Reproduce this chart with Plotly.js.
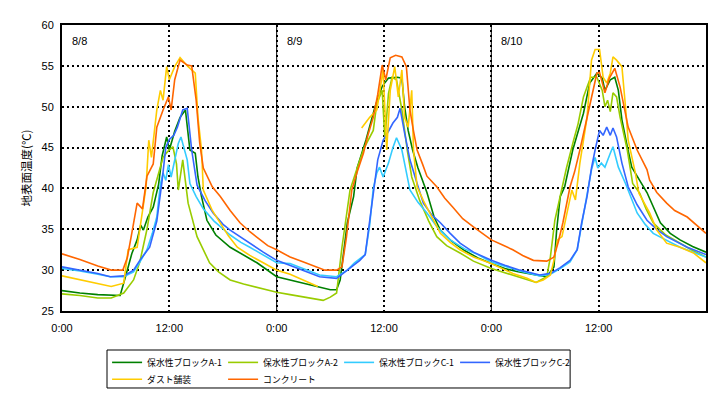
<!DOCTYPE html>
<html><head><meta charset="utf-8">
<script src="https://cdn.plot.ly/plotly-3.0.1.min.js"></script>
<style>html,body{margin:0;padding:0;background:#fff}#chart{width:721px;height:398px}</style>
</head><body><div id="chart"></div>
<script>
// [hour since 8/8 0:00, surface temperature °C]
const blockA1 = [[0,27.5],[2,27.2],[4,27.0],[6.5,26.9],[7.2,29.6],[7.8,32.0],[8.4,33.7],[8.8,35.5],[9.1,34.9],[9.6,36.5],[10.2,37.7],[10.8,40.5],[11.2,44.0],[11.7,46.3],[12,44.7],[12.6,47.0],[13.2,48.7],[13.8,49.6],[14.3,44.7],[14.9,44.3],[15.2,41.4],[15.6,39.0],[16.2,36.1],[17.2,34.3],[18.8,32.8],[20.3,31.8],[21.8,30.9],[24,29.2],
 [25.5,28.8],[27.5,28.2],[30,27.6],[30.7,27.6],[31.1,28.8],[31.9,35.8],[32.6,39.0],[33,42.5],[34,46.0],[35,50.0],[35.8,52.5],[36.5,53.5],[37.5,53.6],[38,53.5],[38.3,50.0],[38.7,47.1],[39.2,44.7],[39.8,42.5],[40.8,39.5],[41.6,36.5],[42.3,34.9],[43.5,33.6],[45,32.4],[46.5,31.5],[48,30.8],
 [49.5,30.2],[51,29.8],[53,29.4],[54.2,29.2],[55,30.4],[55.3,34.9],[55.7,39.0],[56.2,40.2],[57.1,44.7],[58.3,49.2],[59,52.9],[59.8,54.1],[60.4,53.5],[60.7,52.0],[61.3,53.3],[61.8,53.6],[62.2,52.0],[62.6,48.4],[63.2,45.1],[63.7,42.6],[64.3,41.5],[65.4,39.5],[66.9,35.8],[68,34.5],[69.1,33.7],[70.5,32.9],[72,32.2]];
const blockA2 = [[0,27.1],[2,26.9],[4,26.6],[5.5,26.6],[6.9,27.2],[7.5,28.0],[8,28.8],[8.7,31.0],[9.5,35.0],[10.2,39.5],[10.8,42.0],[11.3,43.8],[11.8,44.5],[12.4,45.1],[12.8,43.0],[13,39.8],[13.5,43.5],[14.1,38.2],[15.1,34.1],[16.5,30.9],[17.5,29.8],[18.8,28.8],[20.3,28.3],[21.8,27.9],[24,27.3],
 [25.5,27.0],[27.5,26.6],[29.2,26.3],[30,26.7],[30.7,27.2],[31.3,32.8],[32.2,39.8],[33,42.5],[33.8,45.0],[34.8,47.1],[35.2,50.4],[35.8,52.0],[36.1,46.0],[36.5,51.6],[36.9,53.6],[37.4,53.3],[38,49.6],[38.6,44.7],[39.1,41.4],[40,38.5],[41,36.0],[41.9,34.1],[43,33.0],[44.5,32.1],[46,31.1],[48,30.2],
 [49.5,29.7],[51,29.2],[52,28.8],[53,28.5],[54.2,29.2],[54.6,31.6],[55.1,36.1],[55.9,40.2],[56.4,42.5],[57.2,45.9],[57.7,47.9],[58.3,51.2],[59.1,53.6],[59.8,53.6],[60.4,52.0],[60.7,50.0],[61,50.8],[61.3,49.4],[61.6,51.7],[62,51.2],[62.4,48.7],[63.2,44.7],[63.8,40.6],[64.6,39.4],[65.3,37.5],[66.1,35.8],[67.5,34.3],[69.1,33.3],[70.5,32.4],[72,31.6]];
const blockC1 = [[0,30.2],[2,29.9],[4,29.5],[5.4,29.2],[6.9,29.2],[8,29.8],[8.7,31.0],[9.5,32.5],[10.1,34.5],[10.6,36.5],[11,40.5],[11.3,41.9],[11.6,41.0],[11.9,42.9],[12.2,41.4],[12.6,43.5],[13,45.5],[13.3,46.3],[13.7,44.5],[14,43.5],[14.3,40.6],[15,39.0],[15.8,37.5],[17,36.0],[18.8,34.3],[20,33.4],[21,32.8],[22.5,31.8],[24,30.9],
 [25.5,30.8],[27,30.2],[28.8,29.4],[30.7,29.2],[31.9,30.0],[32.7,30.9],[33.9,31.9],[34.4,35.5],[34.8,40.0],[35.2,41.9],[35.5,42.6],[35.9,41.4],[36.5,43.1],[37,45.0],[37.4,46.2],[38,44.7],[38.6,41.4],[38.9,39.8],[39.8,38.3],[40.8,37.0],[42,35.2],[43.4,33.7],[45,32.6],[46.5,31.9],[48,31.0],
 [49.5,30.5],[51.2,29.9],[53.4,29.3],[54.6,29.5],[55.7,30.2],[56.8,31.0],[57.6,32.5],[58.1,35.5],[58.7,38.8],[59.2,42.3],[59.6,43.8],[59.9,42.5],[60.3,43.1],[60.7,42.6],[61.3,44.3],[61.6,45.1],[62.2,42.6],[63,40.6],[64.3,37.0],[65.2,35.6],[66.1,34.5],[67.6,33.6],[69.1,32.8],[72,31.6]];
const blockC2 = [[0,30.4],[2,30.0],[4,29.6],[5.4,29.2],[6.9,29.3],[8,30.0],[8.7,31.2],[9.8,32.8],[10.6,36.0],[11.2,41.0],[11.6,45.0],[12,46.0],[12.5,46.5],[12.9,47.5],[13.5,49.6],[14,49.8],[14.5,44.7],[15.1,40.4],[16,38.5],[16.9,37.0],[18,35.6],[18.8,34.9],[20,34.0],[21,33.3],[22.5,32.2],[24,31.2],
 [25.5,30.6],[27,30.0],[28.8,29.2],[30.7,29.0],[31.9,30.0],[33.3,31.2],[33.9,31.9],[34.4,35.8],[35,41.0],[35.3,43.5],[35.9,45.9],[36.5,47.0],[37,48.0],[37.5,48.7],[37.8,49.8],[38.3,46.8],[38.9,43.5],[39.7,40.6],[40.4,38.2],[41.3,36.8],[42.3,35.8],[43.4,34.5],[44.5,33.3],[46,32.2],[48,31.2],
 [49.5,30.6],[51.2,30.0],[53.4,29.4],[54.6,29.6],[55.7,30.3],[56.8,31.2],[57.6,32.5],[58.1,35.8],[58.7,39.0],[59.2,42.5],[59.6,44.7],[60.1,47.1],[60.5,46.5],[60.9,47.5],[61.3,46.5],[61.6,47.4],[62,46.3],[62.6,43.1],[63.3,40.2],[64.3,38.0],[65.4,36.1],[66.5,35.0],[67.6,34.1],[69.9,32.8],[72,31.9]];
const dust = [[0,29.3],[2,28.8],[4,28.3],[5.5,28.0],[6.9,28.4],[7.4,32.5],[8.4,32.8],[9.1,37.7],[9.4,40.2],[9.7,45.9],[10,43.8],[10.6,49.6],[11,52.0],[11.3,50.8],[11.7,54.9],[12,53.3],[12.6,54.9],[13.2,56.0],[14.1,54.9],[14.9,54.1],[15.2,48.7],[15.6,44.7],[15.8,39.8],[16.8,37.3],[17.7,35.8],[18.6,34.2],[19.6,32.8],[21,31.8],[22.5,30.9],[24,30.0],
 [25.5,29.5],[27,28.8],[28.6,28.0],[28.7,null],[33.5,47.4],[34.4,48.7],[35.2,49.6],[35.9,54.5],[36.3,44.7],[36.7,52.0],[37.2,54.9],[37.6,51.2],[38,54.5],[38.3,48.7],[38.7,47.5],[39.1,52.0],[39.3,44.7],[39.7,40.2],[40.4,38.5],[41.1,37.0],[42.3,34.5],[43.4,33.4],[44.5,32.5],[46,31.6],[48,30.8],
 [49.2,30.2],[50.4,29.6],[52,29.0],[53,28.5],[53.8,28.8],[54.6,29.4],[55,31.2],[55.4,33.7],[55.9,34.1],[56.5,37.0],[57,39.8],[57.4,38.6],[57.9,43.1],[58.7,48.7],[59.2,55.7],[59.6,57.0],[60.1,57.0],[60.5,53.6],[60.9,52.9],[61.3,54.1],[61.6,56.1],[62,55.7],[62.6,54.9],[63,50.0],[63.3,45.9],[64.1,41.9],[64.5,39.4],[65.7,37.0],[66.5,34.9],[67.6,33.3],[69.1,32.8],[70.6,32.1],[72,30.9]];
const concrete = [[0,32.0],[2,31.3],[4,30.5],[5.5,30.0],[6.8,30.0],[7.3,31.5],[7.8,34.5],[8.4,38.2],[9,37.5],[9.5,41.5],[10.2,43.0],[10.6,47.5],[11.3,49.6],[11.9,51.2],[12.2,49.6],[12.6,53.3],[13.2,55.7],[14,55.1],[14.5,55.0],[15,50.8],[15.4,45.5],[15.8,42.5],[16.8,40.2],[17.7,39.0],[18.8,37.3],[19.9,35.8],[21,34.7],[22.1,33.7],[23,33.0],[24,32.5],
 [25.5,31.6],[27,31.0],[29.4,30.0],[30.7,30.0],[31.3,30.4],[31.8,34.0],[32.4,39.8],[33,42.0],[33.7,44.3],[34.2,46.5],[34.8,48.7],[35.3,51.5],[35.8,55.1],[36.2,53.3],[36.7,56.0],[37.3,56.3],[38,56.1],[38.5,54.9],[38.9,49.6],[39.3,47.0],[39.7,44.7],[40.3,43.0],[40.8,41.5],[41.9,40.2],[42.8,38.8],[43.7,37.7],[44.8,36.3],[46,35.3],[47,34.5],[48,33.7],
 [49.2,33.1],[50.4,32.5],[51.5,31.8],[52.7,31.2],[54.2,31.1],[55,31.6],[55.5,33.5],[56,35.8],[56.8,40.2],[57.3,42.0],[57.9,44.7],[58.7,48.7],[59.3,52.0],[59.8,54.1],[60.1,54.2],[60.7,51.7],[61.2,53.5],[61.8,54.7],[62.4,52.4],[62.9,49.5],[63.3,47.5],[64.3,44.7],[65.4,42.3],[65.7,41.0],[66.5,39.5],[67.6,38.2],[68.5,37.3],[69.9,36.5],[71,35.4],[72,34.5]];

const seriesNames = ['保水性ブロックA-1','保水性ブロックA-2','保水性ブロックC-1','保水性ブロックC-2','ダスト舗装','コンクリート'];
const seriesData = [blockA1, blockA2, blockC1, blockC2, dust, concrete];
const seriesColors = ['#008000','#99cc00','#33ccff','#3366ff','#ffcc00','#ff6600'];
const seriesLegendRow = ['legend','legend','legend','legend','legend2','legend2'];
const tickHours = [0,12,24,36,48,60];
const tickLabels = ['0:00','12:00','0:00','12:00','0:00','12:00'];
const dayLabels = ['8/8','8/9','8/10'];
const dayStarts = [0,24,48];

const traces = seriesData.map((d,i)=>({
  type:'scatter', mode:'lines', name:seriesNames[i], legend:seriesLegendRow[i],
  x:d.map(p=>p[0]), y:d.map(p=>p[1]),
  line:{color:seriesColors[i], width:1.6},
  connectgaps:false, hoverinfo:'skip'
}));

const tickFont = {family:'Liberation Sans, Arial, sans-serif', size:11, color:'#000'};
function legendOpts(yTop){
  return {orientation:'h', x:0.07, xanchor:'left', y:yTop, yanchor:'top',
    bgcolor:'rgba(0,0,0,0)', borderwidth:0,
    font:{family:'Noto Sans CJK JP, sans-serif', size:8.8, color:'#000'},
    entrywidth:71, entrywidthmode:'pixels', itemwidth:30, traceorder:'normal'};
}
const layout = {
  width:721, height:398,
  margin:{l:62, r:15, t:25, b:87, autoexpand:false},
  paper_bgcolor:'#fff', plot_bgcolor:'#fff',
  showlegend:true,
  xaxis:{range:[0,72], tickmode:'array', tickvals:tickHours, ticktext:tickLabels,
    showgrid:true, gridcolor:'#000', gridwidth:2, griddash:'2px,3px',
    showline:true, linecolor:'#000', linewidth:2, mirror:true, ticks:'', zeroline:false,
    tickfont:tickFont, ticklabelstandoff:6, fixedrange:true},
  yaxis:{range:[25,60], tickvals:[25,30,35,40,45,50,55,60],
    showgrid:true, gridcolor:'#000', gridwidth:2, griddash:'2px,3px',
    showline:true, linecolor:'#000', linewidth:2, mirror:true, ticks:'', zeroline:false,
    tickfont:tickFont, ticklabelstandoff:4,
    title:{text:'地表面温度(℃)', font:{family:'Noto Sans CJK JP, sans-serif', size:11.5, color:'#000'}, standoff:8},
    fixedrange:true},
  shapes: dayStarts.slice(1).map(h=>({type:'line', xref:'x', yref:'paper', x0:h, x1:h, y0:0, y1:1, line:{color:'#000', width:1}, layer:'below'}))
    .concat([{type:'rect', xref:'paper', yref:'paper', x0:0.0699, x1:0.789, y0:-0.1364, y1:-0.2692, line:{color:'#000', width:1}, fillcolor:'rgba(0,0,0,0)'}]),
  annotations: dayLabels.map((t,i)=>({text:t, xref:'x', yref:'y', x:dayStarts[i]+0.9, y:58, xanchor:'left', yanchor:'middle', showarrow:false,
    font:{family:'Liberation Sans, Arial, sans-serif', size:11, color:'#000'}})),
  legend:legendOpts(-0.129),
  legend2:legendOpts(-0.188)
};
Plotly.newPlot('chart', traces, layout, {displayModeBar:false, staticPlot:true});
</script></body></html>
